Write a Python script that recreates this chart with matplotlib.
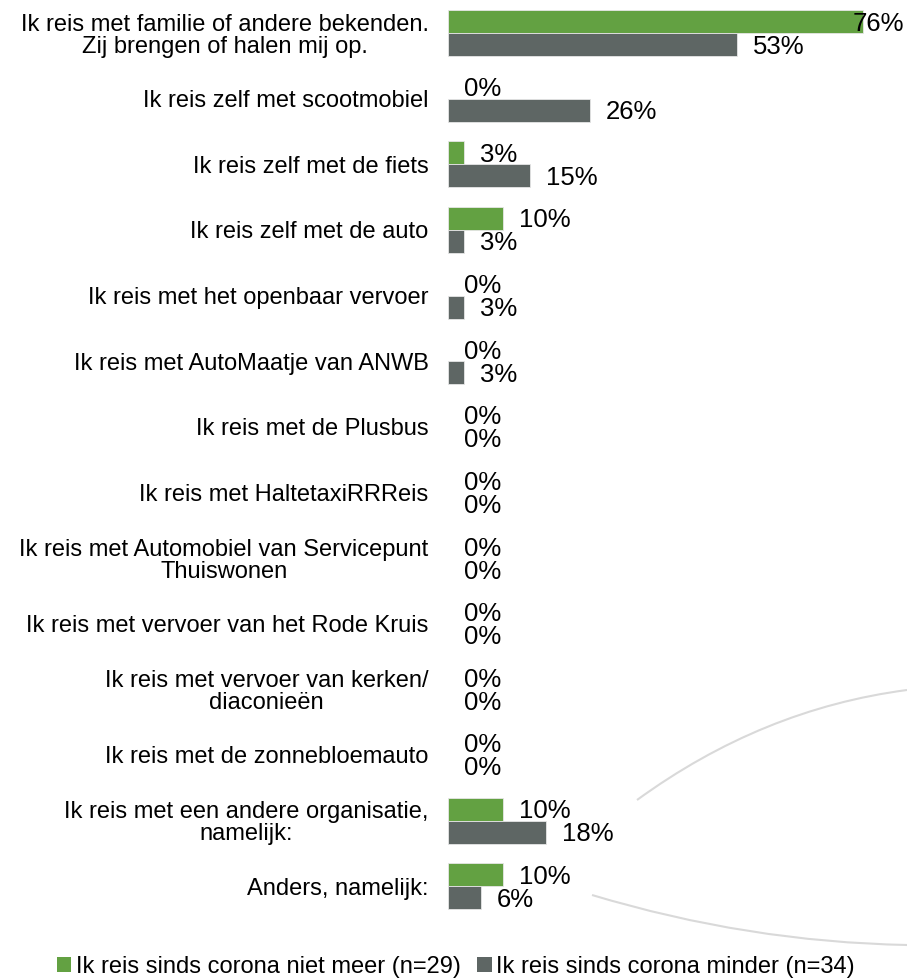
import numpy as np
import matplotlib.pyplot as plt
from matplotlib.patches import Patch, PathPatch
from matplotlib.path import Path

plt.rcParams['font.family'] = ['Liberation Sans', 'DejaVu Sans']

# Data
categories = [
    'Ik reis met familie of andere bekenden.\nZij brengen of halen mij op.',
    'Ik reis zelf met scootmobiel',
    'Ik reis zelf met de fiets',
    'Ik reis zelf met de auto',
    'Ik reis met het openbaar vervoer',
    'Ik reis met AutoMaatje van ANWB',
    'Ik reis met de Plusbus',
    'Ik reis met HaltetaxiRRReis',
    'Ik reis met Automobiel van Servicepunt\nThuiswonen',
    'Ik reis met vervoer van het Rode Kruis',
    'Ik reis met vervoer van kerken/\ndiaconieën',
    'Ik reis met de zonnebloemauto',
    'Ik reis met een andere organisatie,\nnamelijk:',
    'Anders, namelijk:',
]
niet_meer = [76, 0, 3, 10, 0, 0, 0, 0, 0, 0, 0, 0, 10, 10]
minder = [53, 26, 15, 3, 3, 3, 0, 0, 0, 0, 0, 0, 18, 6]
series_names = ['Ik reis sinds corona niet meer (n=29)',
                'Ik reis sinds corona minder (n=34)']
colors = ['#63A142', '#5E6664']

W, H = 907, 980
fig = plt.figure(figsize=(W / 100, H / 100), dpi=100)
ax = fig.add_axes([448 / W, 1 - 919 / H, (W - 448) / W, 918.7 / H])

y = np.arange(len(categories))
h = 0.35
for vals, off, c in [(niet_meer, -h / 2, colors[0]), (minder, h / 2, colors[1])]:
    bars = ax.barh(y + off, vals, height=h, color=c, edgecolor='#e6e6e6', linewidth=0.6)
    # no outline on empty bars
    for b, v in zip(bars, vals):
        if v == 0:
            b.set_linewidth(0)

xmax = (W - 448) / 5.46
ax.set_xlim(0, xmax)
ax.set_ylim(len(categories) - 0.5, -0.5)

# data labels, 16 px right of bar end; pull back inside if it would run off
for vals, off in [(niet_meer, -h / 2), (minder, h / 2)]:
    for i, v in enumerate(vals):
        if v * 5.46 + 16 + 52 > W - 448:
            ax.annotate(f'{v}%', (xmax, i + off), xytext=(-3, -2), textcoords='offset pixels',
                        ha='right', va='center', fontsize=18.5, color='black')
        else:
            ax.annotate(f'{v}%', (v, i + off), xytext=(16, -2), textcoords='offset pixels',
                        ha='left', va='center', fontsize=18.5, color='black')

ax.set_yticks(y)
ax.set_yticklabels(categories, fontsize=17, linespacing=1.0)
for lbl in ax.get_yticklabels():
    lbl.set_multialignment('center')
ax.tick_params(axis='y', length=0, pad=14)
ax.set_xticks([])
for s in ax.spines.values():
    s.set_visible(False)

# decorative grey curves on the right
def curve(p0, p1, p2):
    pts = [(x / W, 1 - yy / H) for x, yy in (p0, p1, p2)]
    path = Path(pts, [Path.MOVETO, Path.CURVE3, Path.CURVE3])
    fig.add_artist(PathPatch(path, transform=fig.transFigure, facecolor='none',
                             edgecolor='#d9d9d9', linewidth=1.5))

curve((637, 800), (762, 709), (907, 690))
curve((592, 895), (748, 942), (907, 945))

handles = [Patch(facecolor=c) for c in colors]
fig.legend(handles, series_names, loc='center', bbox_to_anchor=(456 / W, 1 - 967 / H),
           ncol=2, frameon=False, fontsize=17, handlelength=0.6, handleheight=0.6,
           handletextpad=0.2, columnspacing=0.7, borderpad=0, borderaxespad=0)

plt.savefig('out.png', dpi=100)
